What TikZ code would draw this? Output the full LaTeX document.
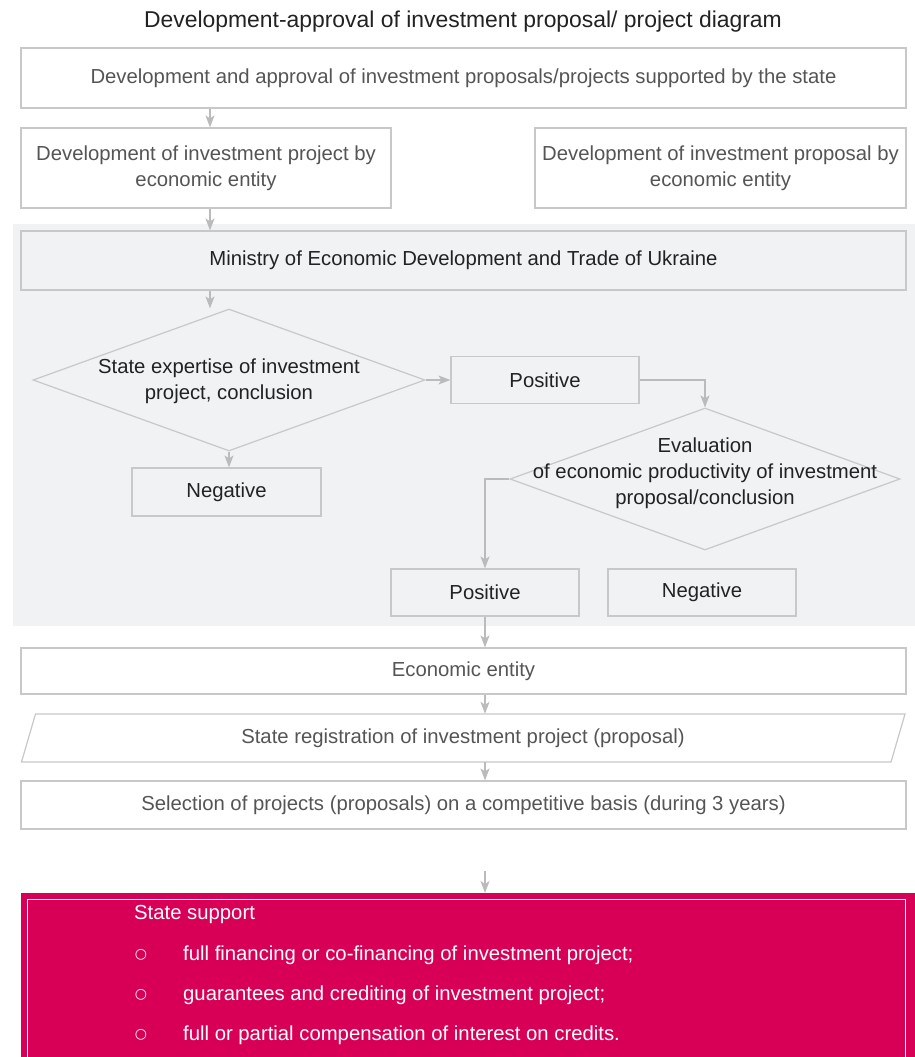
\documentclass[tikz,border=0pt]{standalone}
\usepackage{fontspec}
\setmainfont{Liberation Sans}
\newfontfamily\dejavu{DejaVu Sans}
\usetikzlibrary{shapes.geometric,arrows.meta}
\definecolor{bordergray}{HTML}{C8C8C8}
\definecolor{arrowgray}{HTML}{BBBBBB}
\definecolor{panelgray}{HTML}{F1F2F4}
\definecolor{txtgray}{HTML}{555555}
\definecolor{txtdark}{HTML}{222222}
\definecolor{support}{HTML}{D70056}
\begin{document}
\begin{tikzpicture}[x=1pt,y=-1pt,
  font=\fontsize{20.3}{26}\selectfont,
  box/.style={draw=bordergray, line width=1.2pt, rectangle, inner sep=0pt, align=center},
  wbox/.style={box, fill=white, text=txtgray},
  gbox/.style={box, text=txtdark},
  dshape/.style={draw=bordergray, line width=1.2pt, diamond, inner sep=0pt},
  conn/.style={draw=arrowgray, line width=1.2pt, -{Stealth[length=12pt,width=9pt,inset=3pt]}},
  wtext/.style={text=white, anchor=west, inner sep=0pt},
  bul/.style={text=white, inner sep=0pt, font=\dejavu\fontsize{14}{16}\selectfont}]
\useasboundingbox (0,0) rectangle (915,1057);
\fill[white] (0,0) rectangle (915,1057);
% title
\node[text=txtdark, font=\fontsize{22.9}{26}\selectfont] (title) at (463,22) {Development-approval of investment proposal/ project diagram};
% top boxes
\node[wbox, minimum width=885pt, minimum height=60pt] (top) at (463.5,78) {Development and approval of investment proposals/projects supported by the state};
\node[wbox, minimum width=370pt, minimum height=80pt] (projdev) at (206,168) {Development of investment project by\\economic entity};
\node[wbox, minimum width=371pt, minimum height=80pt] (propdev) at (720.5,168) {Development of investment proposal by\\economic entity};
% grey panel
\fill[panelgray] (13,224) rectangle (915,626);
\node[gbox, minimum width=885pt, minimum height=59pt] (min) at (463.5,260.5) {Ministry of Economic Development and Trade of Ukraine};
\node[dshape, minimum width=392pt, minimum height=142pt] (d1) at (229,380) {};
\node[text=txtdark, align=center] (d1t) at (229,381) {State expertise of investment\\project, conclusion};
\node[gbox, minimum width=188pt, minimum height=47pt] (pos1) at (545,380) {Positive};
\node[gbox, minimum width=189pt, minimum height=48pt] (neg1) at (226.5,492) {Negative};
\node[dshape, minimum width=390pt, minimum height=142pt] (d2) at (705,479) {};
\node[text=txtdark, align=center] (d2t) at (705,473) {Evaluation\\of economic productivity of investment\\proposal/conclusion};
\node[gbox, minimum width=188pt, minimum height=47pt] (pos2) at (485,592.5) {Positive};
\node[gbox, minimum width=188pt, minimum height=47pt] (neg2) at (702,592.5) {Negative};
% lower boxes
\node[wbox, minimum width=885pt, minimum height=46pt] (econ) at (463.5,671) {Economic entity};
\draw[draw=bordergray, line width=1.2pt, fill=white] (21.5,762) -- (35.5,714) -- (905,714) -- (891,762) -- cycle;
\node[text=txtgray, minimum width=860pt, minimum height=48pt, inner sep=0pt] (reg) at (463,738) {State registration of investment project (proposal)};
\node[wbox, minimum width=885pt, minimum height=48pt] (sel) at (463.5,805) {Selection of projects (proposals) on a competitive basis (during 3 years)};
% state support
\node[fill=support, minimum width=894pt, minimum height=190pt, anchor=north west, inner sep=0pt] (supp) at (21,893) {};
\draw[white, line width=1pt] (27,1080) -- (27,899) -- (905,899) -- (905,1080);
\node[wtext] (ss) at (134,915) {State support};
\node[bul] (b1) at (141,955) {○};
\node[bul] (b2) at (141,995) {○};
\node[bul] (b3) at (141,1035) {○};
\node[wtext] (t1) at (183,955) {full financing or co-financing of investment project;};
\node[wtext] (t2) at (183,995) {guarantees and crediting of investment project;};
\node[wtext] (t3) at (183,1035) {full or partial compensation of interest on credits.};
% connectors
\draw[conn] ([xshift=4pt]projdev.north |- top.south) -- ([xshift=4pt]projdev.north);
\draw[conn] ([xshift=4pt]projdev.south) -- ([xshift=4pt]projdev.south |- min.north);
\draw[conn] ([xshift=-19pt]d1.north |- min.south) -- ([xshift=-19pt]d1.north);
\draw[conn] (d1.east) -- (pos1.west);
\draw[conn] (pos1.east) -| (d2.north);
\draw[conn] (d1.south) -- (d1.south |- neg1.north);
\draw[conn] (d2.west) -| (pos2.north);
\draw[conn] (pos2.south) -- (pos2.south |- econ.north);
\draw[conn] (pos2.south |- econ.south) -- (pos2.south |- reg.north);
\draw[conn] (pos2.south |- reg.south) -- (pos2.south |- sel.north);
\coordinate (gap) at (485,871);
\draw[conn] (gap) -- (gap |- supp.north);
\end{tikzpicture}
\end{document}
